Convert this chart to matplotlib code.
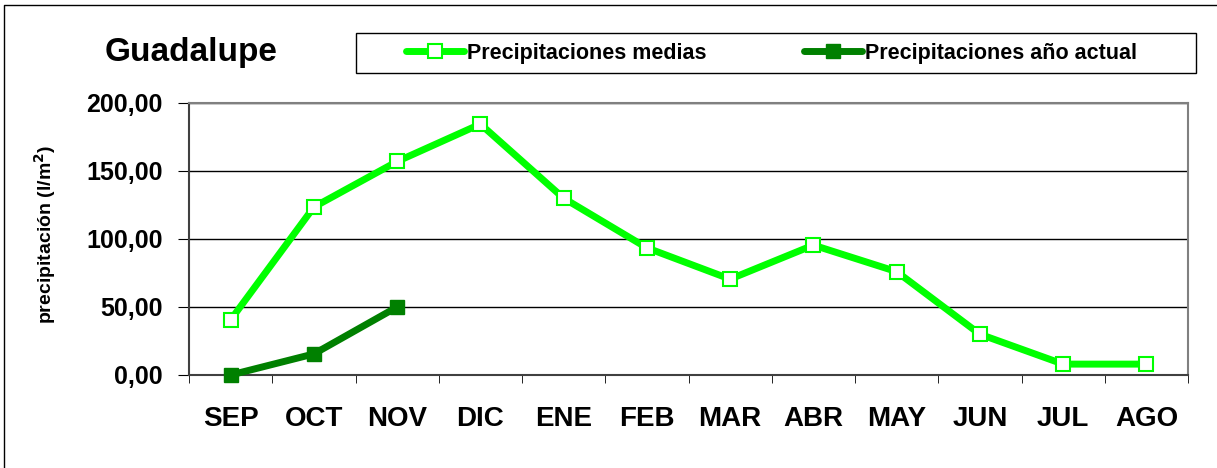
import numpy as np
import matplotlib
matplotlib.use("Agg")
import matplotlib.pyplot as plt
from matplotlib.patches import Rectangle
from matplotlib.lines import Line2D

plt.rcParams['font.family'] = ['Liberation Sans', 'DejaVu Sans']
plt.rcParams['font.weight'] = 'bold'

meses = ["SEP", "OCT", "NOV", "DIC", "ENE", "FEB", "MAR", "ABR", "MAY", "JUN", "JUL", "AGO"]
medias = [40.5, 123.5, 157.0, 184.5, 130.0, 93.5, 70.5, 95.5, 76.0, 30.0, 8.0, 8.0]
actual = [0.0, 15.5, 50.0]
yticks = [0, 50, 100, 150, 200]

W, H = 1217, 468
fig = plt.figure(figsize=(W / 100, H / 100), dpi=100)
# marco exterior (solo se ven los bordes izquierdo y superior)
fig.lines.append(Line2D([4/W, 4/W, 1.0], [0.0, 1 - 5/H, 1 - 5/H], transform=fig.transFigure,
                        color='black', linewidth=1))
# marco de la leyenda
fig.patches.append(Rectangle((356/W, 1 - 73/H), 840/W, 40/H, transform=fig.transFigure,
                             fill=False, edgecolor='black', linewidth=1))

ax = fig.add_axes([189/W, 93/H, 999/W, 272/H])
x = np.arange(len(meses))
l1, = ax.plot(x, medias, color='#00ff00', linewidth=5, marker='s', markersize=10,
              markerfacecolor='white', markeredgecolor='#00ff00', markeredgewidth=1.5,
              label='Precipitaciones medias', zorder=3, solid_capstyle='round')
l2, = ax.plot(x[:len(actual)], actual, color='#008000', linewidth=5, marker='s', markersize=10,
              markerfacecolor='#008000', markeredgecolor='#008000',
              label='Precipitaciones año actual', zorder=4, clip_on=False, solid_capstyle='round')

ax.set_xlim(-0.5, len(meses) - 0.5)
ax.set_ylim(0, 200)
ax.set_yticks(yticks)
ax.set_yticklabels([f"{v:.2f}".replace('.', ',') for v in yticks], fontsize=18, fontweight='bold')
ax.set_xticks(x)
ax.set_xticklabels(meses, fontsize=20, fontweight='bold')
ax.tick_params(axis='x', length=0, pad=22)
ax.set_xticks(np.arange(-0.5, len(meses)), minor=True)
ax.tick_params(axis='x', which='minor', length=6, direction='out', color='black')
ax.tick_params(axis='y', length=8, direction='out', pad=11)
ax.grid(axis='y', color='black', linewidth=1)
for s in ['top', 'right']:
    ax.spines[s].set_color('#808080')
    ax.spines[s].set_linewidth(1.5)
for s in ['left', 'bottom']:
    ax.spines[s].set_color('#404040')
    ax.spines[s].set_linewidth(1.5)
ax.set_axisbelow(True)

ax.set_ylabel('precipitación (l/m$^\\mathbf{2}$)', fontsize=14, fontweight='bold')
ax.yaxis.set_label_coords(58/W, 0.5, transform=fig.transFigure)

fig.text(105/W, 1 - 52/H, 'Guadalupe', fontsize=24, fontweight='bold', va='center', ha='left')

leg = fig.legend(handles=[l1, l2], loc='center left', bbox_to_anchor=(406/W, 1 - 53/H),
                 ncol=2, fontsize=15.5, frameon=False, borderpad=0, borderaxespad=0,
                 columnspacing=4.5, handlelength=2.7, handletextpad=0.15)

fig.savefig('out.png', dpi=100)
